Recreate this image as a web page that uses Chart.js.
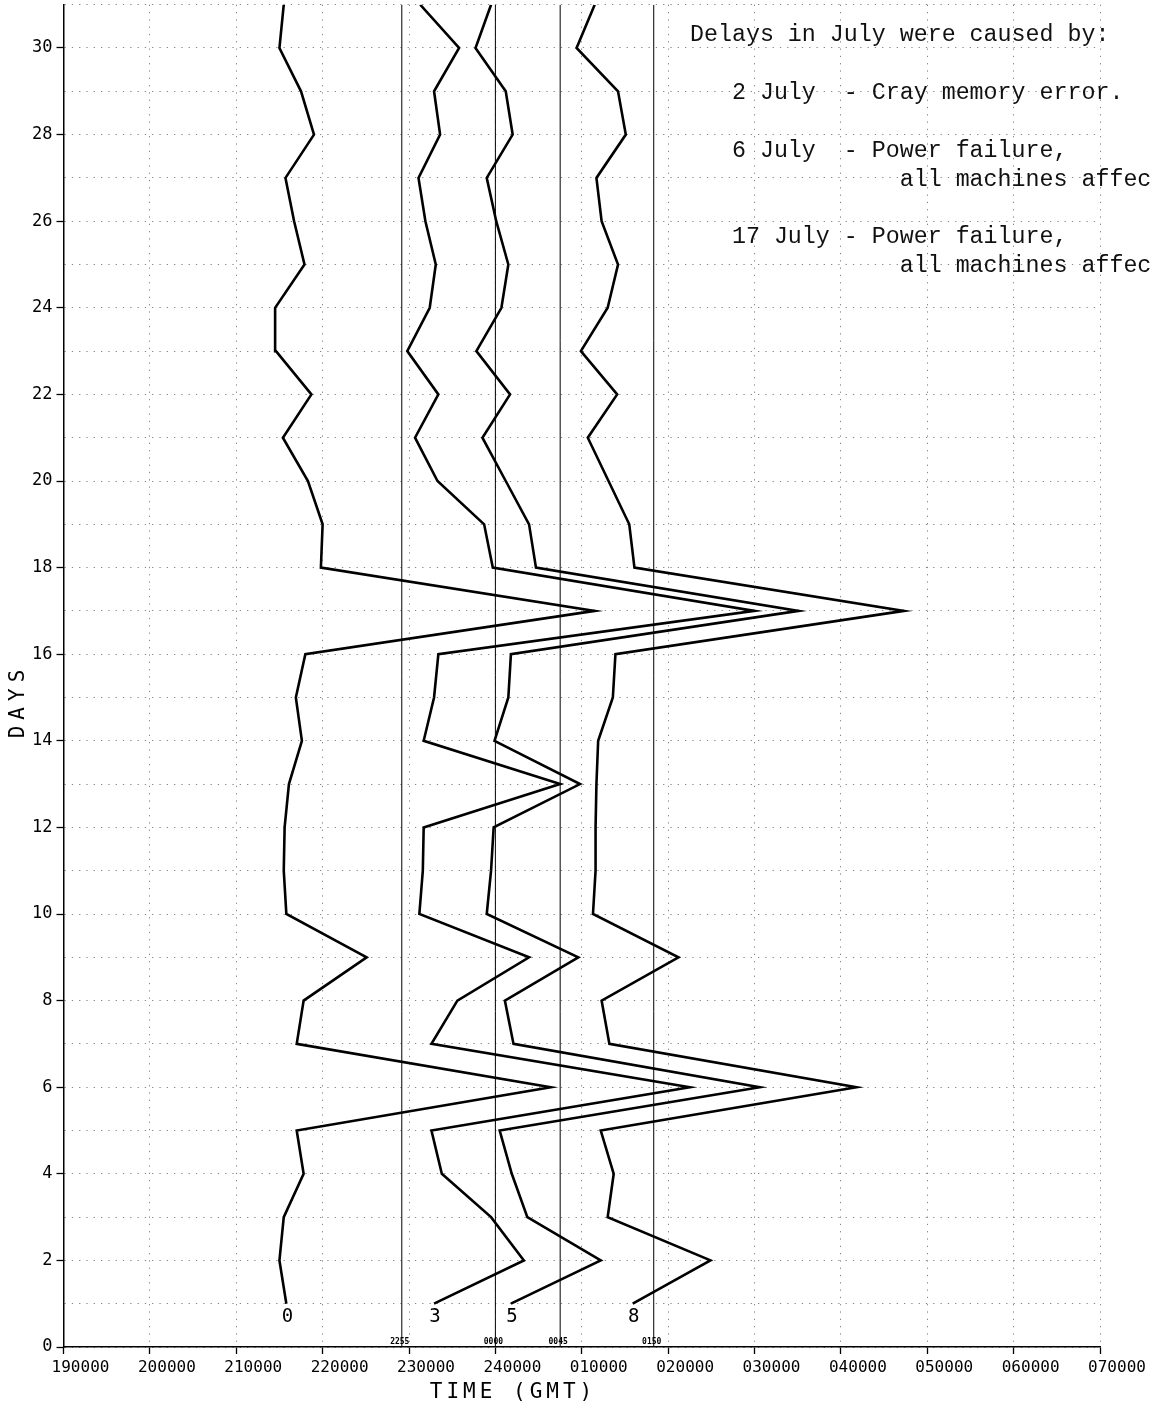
<!DOCTYPE html>
<html>
<head>
<meta charset="utf-8">
<script src="https://cdn.jsdelivr.net/npm/chart.js@4.4.1/dist/chart.umd.min.js"></script>
<style>
  body { margin: 0; background: #fff; }
  canvas { display: block; }
</style>
</head>
<body>
<canvas id="myChart" width="1152" height="1410"></canvas>
<script>
// days of July (y axis) and the time each run finished (hours, past 24 = next day)
const days = [1, 2, 3, 4, 5, 6, 7, 8, 9, 10, 11, 12, 13, 14, 15, 16, 17, 18, 19, 20, 21, 22, 23, 24, 25, 26, 27, 28, 29, 30, 31];

const times0 = [21.58, 21.50, 21.55, 21.78, 21.70, 24.64, 21.70, 21.78, 22.51, 21.58, 21.55, 21.56, 21.61, 21.76, 21.69, 21.80,
    25.15, 21.98, 22.00, 21.83, 21.54, 21.87, 21.46, 21.45, 21.79, 21.67, 21.57, 21.90, 21.75, 21.50, 21.55];
const times3 = [23.29, 24.33, 23.95, 23.38, 23.26, 26.25, 23.26, 23.56, 24.39, 23.12, 23.16, 23.17, 24.75, 23.17, 23.29, 23.34,
    27.00, 23.97, 23.87, 23.33, 23.07, 23.34, 22.98, 23.24, 23.31, 23.19, 23.11, 23.36, 23.29, 23.58, 23.13];
const times5 = [24.18, 25.22, 24.37, 24.19, 24.05, 27.06, 24.21, 24.11, 24.96, 23.90, 23.95, 23.98, 24.98, 23.99, 24.15, 24.18,
    27.51, 24.47, 24.39, 24.12, 23.85, 24.17, 23.78, 24.07, 24.15, 24.01, 23.90, 24.20, 24.12, 23.77, 23.95];
const times8 = [25.59, 26.49, 25.30, 25.37, 25.22, 28.18, 25.32, 25.23, 26.12, 25.13, 25.16, 25.16, 25.17, 25.19, 25.36, 25.39,
    28.73, 25.61, 25.55, 25.31, 25.07, 25.41, 24.99, 25.30, 25.42, 25.23, 25.17, 25.51, 25.42, 24.94, 25.15];

const seriesLabels = ['0', '3', '5', '8'];
const seriesTimes = [times0, times3, times5, times8];

// target times (vertical lines)
const refTimes = [22 + 55 / 60, 24, 24 + 45 / 60, 25 + 50 / 60];
const refLabels = ['2255', '0000', '0045', '0150'];

const tickLabels = ['190000', '200000', '210000', '220000', '230000', '240000', '010000',
    '020000', '030000', '040000', '050000', '060000', '070000'];

const notes = [
    { indent: 0, line: 0, text: 'Delays in July were caused by:' },
    { indent: 3, line: 2, text: '2 July  - Cray memory error.' },
    { indent: 3, line: 4, text: '6 July  - Power failure,' },
    { indent: 15, line: 5, text: 'all machines affected.' },
    { indent: 3, line: 7, text: '17 July - Power failure,' },
    { indent: 15, line: 8, text: 'all machines affected.' }
];

const plotFont = '"DejaVu Sans Mono", monospace';

const datasets = seriesTimes.map((times, i) => ({
    label: seriesLabels[i],
    data: times.map((t, j) => ({ x: t, y: days[j] })),
    borderColor: '#000',
    borderWidth: 2.6,
    pointRadius: 0,
    tension: 0,
    fill: false
}));

refTimes.forEach((t, i) => {
    datasets.push({
        label: refLabels[i],
        data: [{ x: t, y: 0 }, { x: t, y: 31 }],
        borderColor: '#000',
        borderWidth: 1,
        pointRadius: 0,
        fill: false
    });
});

const extraText = {
    id: 'extraText',
    afterDraw(chart) {
        const ctx = chart.ctx;
        const x = chart.scales.x;
        const y = chart.scales.y;
        ctx.save();
        ctx.fillStyle = '#000';

        // series labels under the first point
        ctx.font = '19px ' + plotFont;
        ctx.textAlign = 'center';
        ctx.textBaseline = 'top';
        seriesTimes.forEach((times, i) => {
            ctx.fillText(seriesLabels[i], x.getPixelForValue(times[0]) + 1, y.getPixelForValue(days[0]) + 4);
        });

        // reference line labels
        ctx.font = 'bold 8px ' + plotFont;
        ctx.textBaseline = 'bottom';
        refTimes.forEach((t, i) => {
            ctx.fillText(refLabels[i], x.getPixelForValue(t) - 2, y.getPixelForValue(0) - 1);
        });

        // axis titles
        ctx.font = '21px ' + plotFont;
        ctx.letterSpacing = '4px';
        ctx.textBaseline = 'middle';
        ctx.fillText('TIME (GMT)', 513, 1393);
        ctx.save();
        ctx.translate(19, 704);
        ctx.rotate(-Math.PI / 2);
        ctx.letterSpacing = '6px';
        ctx.fillText('DAYS', 3, 0);
        ctx.restore();
        ctx.letterSpacing = '0px';

        // notes, top right
        ctx.font = '23.3px "Liberation Mono", "Courier New", monospace';
        ctx.textAlign = 'left';
        ctx.fillStyle = '#111';
        const cw = ctx.measureText('M').width;
        notes.forEach(n => {
            ctx.fillText(n.text, 690 + n.indent * cw, 35 + n.line * 28.9);
        });
        ctx.restore();
    }
};

new Chart(document.getElementById('myChart'), {
    type: 'line',
    data: { datasets: datasets },
    options: {
        responsive: false,
        animation: false,
        layout: { padding: { top: 4.7, right: 52, left: 0, bottom: 0 } },
        plugins: {
            legend: { display: false },
            tooltip: { enabled: false }
        },
        scales: {
            x: {
                type: 'linear',
                min: 19,
                max: 31,
                ticks: {
                    stepSize: 1,
                    autoSkip: false,
                    maxRotation: 0,
                    labelOffset: 17,
                    padding: 4,
                    color: '#000',
                    font: { family: plotFont, size: 16 },
                    callback: (value, index) => tickLabels[index] ?? ''
                },
                grid: {
                    color: '#888',
                    lineWidth: 1,
                    tickLength: 7,
                    tickColor: '#000',
                    tickWidth: 1.3
                },
                border: { display: true, color: '#000', width: 1.5, dash: [1.3, 6] },
                afterFit: scale => {
                    scale.height = 63;
                    scale.paddingLeft = 0;
                    scale.paddingRight = 0;
                }
            },
            y: {
                type: 'linear',
                min: 0,
                max: 31,
                ticks: {
                    stepSize: 1,
                    autoSkip: false,
                    padding: 4,
                    color: '#000',
                    font: { family: plotFont, size: 17 },
                    callback: value => (value % 2 === 0 ? String(value) : '')
                },
                grid: {
                    color: '#888',
                    lineWidth: 1,
                    tickLength: 7,
                    tickWidth: 1.3,
                    tickColor: c => (c.tick && c.tick.value % 2 === 0 ? '#000' : 'rgba(0,0,0,0)')
                },
                border: { display: true, color: '#000', width: 1.5, dash: [1.3, 6] },
                afterFit: scale => {
                    scale.width = 63.5;
                    scale.paddingTop = 0;
                    scale.paddingBottom = 0;
                }
            }
        }
    },
    plugins: [extraText]
});
</script>
</body>
</html>
